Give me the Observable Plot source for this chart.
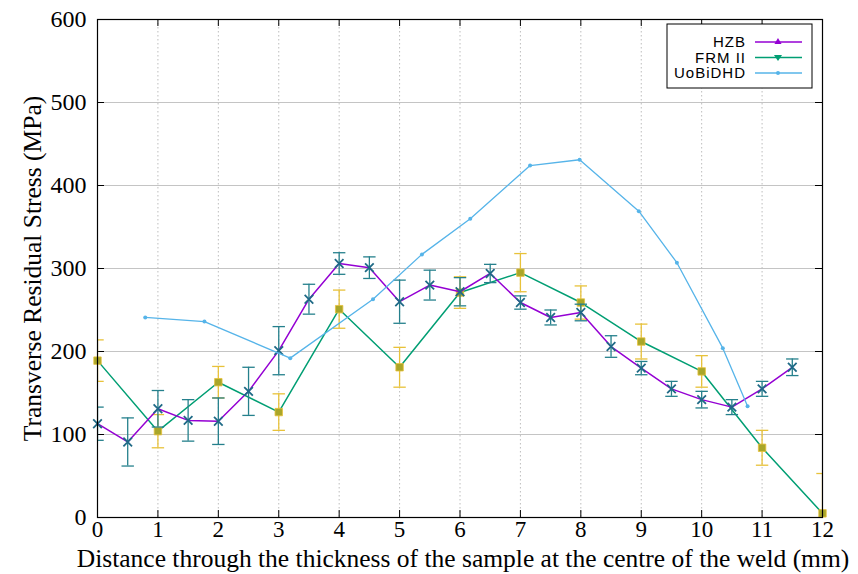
<!DOCTYPE html>
<html><head><meta charset="utf-8">
<script src="https://cdn.jsdelivr.net/npm/d3@7"></script>
<script src="https://cdn.jsdelivr.net/npm/@observablehq/plot@0.6"></script>
<style>body{margin:0;background:#fff}</style>
</head><body><div id="chart"></div>
<script>
// ---- data ----
const hzbX = [0,0.5,1,1.5,2,2.5,3,3.5,4,4.5,5,5.5,6,6.5,7,7.5,8,8.5,9,9.5,10,10.5,11,11.5];
const hzbY = [113,91,131,117,116,152,201,263,306,301,260,280,272,294,259,241,247,206,180,155,142,133,155,181];
const hzbErr = [20,29,22,25,28,29,29,18,13,13,26,18,17,11,8,9,10,13,8,9,10,9,9,10];

const frmX = [0,1,2,3,4,5,6,7,8,9,10,11,12];
const frmY = [189,104,163,127,251,181,271,295,259,212,176,84,5];
const frmErr = [25,20,19,22,23,24,19,23,20,21,19,21,48];

const uobX = [0.79,1.77,3.19,4.56,5.37,6.17,7.16,7.98,8.96,9.59,10.35,10.76];
const uobY = [241,236,192,263,317,360,424,431,369,307,204,134];

const xTicks = [0,1,2,3,4,5,6,7,8,9,10,11,12];
const yTicks = [0,100,200,300,400,500,600];
const seriesNames = ["HZB","FRM II","UoBiDHD"];
const xLabel = "Distance through the thickness of the sample at the centre of the weld (mm)";
const yLabel = "Transverse Residual Stress (MPa)";

// ---- build ----
const hzb = hzbX.map((x,i)=>({x, y:hzbY[i], e:hzbErr[i]}));
const frm = frmX.map((x,i)=>({x, y:frmY[i], e:frmErr[i]}));
const uob = uobX.map((x,i)=>({x, y:uobY[i]}));

const W = 858, H = 574, mL = 97, mR = 36, mT = 19, mB = 57;
const pW = W - mL - mR, pH = H - mT - mB;
const C = {hzb:"#9400d3", hzbBar:"#25808c", frm:"#009e73", frmBar:"#e8c23a", frmMark:"#a9a62a", uob:"#56b4e9"};

const capSym = {draw(ctx, size){ const w = Math.sqrt(size); ctx.moveTo(-w,0); ctx.lineTo(w,0); }};
const triDown = {draw(ctx, size){ const s = Math.sqrt(size)*0.9; ctx.moveTo(-s,-s*0.6); ctx.lineTo(s,-s*0.6); ctx.lineTo(0,s*0.9); ctx.closePath(); }};

function errMarks(data, color){
  return [
    Plot.ruleX(data, {x:"x", y1:d=>d.y-d.e, y2:d=>d.y+d.e, stroke:color, strokeWidth:1.3, clip:true}),
    Plot.dot(data, {x:"x", y:d=>d.y-d.e, symbol:capSym, r:3.5, stroke:color, fill:"none", strokeWidth:1.3, clip:true}),
    Plot.dot(data, {x:"x", y:d=>d.y+d.e, symbol:capSym, r:3.5, stroke:color, fill:"none", strokeWidth:1.3, clip:true})
  ];
}

const chart = Plot.plot({
  width: W, height: H,
  marginLeft: mL, marginRight: mR, marginTop: mT, marginBottom: mB,
  style: {fontFamily: "'Liberation Serif', 'Times New Roman', serif", fontSize: "24px", background: "#fff", color: "#000"},
  x: {domain: [0,12]},
  y: {domain: [0,600]},
  marks: [
    Plot.gridY(yTicks.slice(1,-1), {stroke:"#c4c4c4", strokeOpacity:1}),
    Plot.gridX(xTicks.slice(1,-1), {stroke:"#bdbdbd", strokeOpacity:1, strokeDasharray:"1.5,2.5"}),
    Plot.tickX(xTicks, {x:d=>d, insetTop: pH-7, stroke:"#000"}),
    Plot.tickX(xTicks, {x:d=>d, insetBottom: pH-7, stroke:"#000"}),
    Plot.tickY(yTicks, {y:d=>d, insetRight: pW-7, stroke:"#000"}),
    Plot.tickY(yTicks, {y:d=>d, insetLeft: pW-7, stroke:"#000"}),
    Plot.axisX(xTicks, {tickSize:0, tickPadding:3, fontSize:23, label:null}),
    Plot.axisY(yTicks, {tickSize:0, tickPadding:11, fontSize:24, label:null}),
    Plot.text([xLabel], {text:d=>d, frameAnchor:"bottom", lineAnchor:"middle", textAnchor:"middle", dy:41, dx:3, fontSize:25.5}),
    Plot.text([yLabel], {text:d=>d, frameAnchor:"left", rotate:-90, textAnchor:"middle", lineAnchor:"middle", dx:-65, fontSize:25.5}),
    // FRM II
    Plot.line(frm, {x:"x", y:"y", stroke:C.frm, strokeWidth:1.5}),
    ...errMarks(frm, C.frmBar),
    Plot.dot(frm, {x:"x", y:"y", symbol:"square", r:4.2, fill:C.frmMark, stroke:C.frmBar, strokeWidth:0.8}),
    // HZB
    Plot.line(hzb, {x:"x", y:"y", stroke:C.hzb, strokeWidth:1.5}),
    ...errMarks(hzb, C.hzbBar),
    Plot.dot(hzb, {x:"x", y:"y", symbol:"times", r:4, stroke:"#1f6a86", strokeWidth:1.8}),
    // UoBiDHD
    Plot.line(uob, {x:"x", y:"y", stroke:C.uob, strokeWidth:1.3}),
    Plot.dot(uob, {x:"x", y:"y", r:2, fill:C.uob}),
    Plot.frame({stroke:"#000", strokeWidth:1.2})
  ]
});
document.getElementById("chart").appendChild(chart);

// ---- legend ----
const svg = d3.select(chart);
const lg = svg.append("g").attr("font-family","'Liberation Sans', Arial, sans-serif").attr("font-size",15).attr("letter-spacing","1px");
lg.append("rect").attr("x",667).attr("y",24).attr("width",145).attr("height",64)
  .attr("fill","#fff").attr("stroke","#000").attr("stroke-width",1);
const legendColors = [C.hzb, C.frm, C.uob];
seriesNames.forEach((name,i)=>{
  const cy = 42 + i*15.5;
  lg.append("text").attr("x",746).attr("y",cy).attr("dy","0.35em").attr("text-anchor","end").text(name);
  lg.append("line").attr("x1",755).attr("x2",802).attr("y1",cy).attr("y2",cy).attr("stroke",legendColors[i]).attr("stroke-width",1.4);
});
lg.append("path").attr("d", d3.symbol(d3.symbolTriangle, 22)()).attr("transform","translate(778,42)").attr("fill",C.hzb);
lg.append("path").attr("d", d3.symbol(triDown, 20)()).attr("transform","translate(778,57.5)").attr("fill",C.frm);
lg.append("circle").attr("cx",778).attr("cy",73).attr("r",2).attr("fill",C.uob);
</script>
</body></html>
